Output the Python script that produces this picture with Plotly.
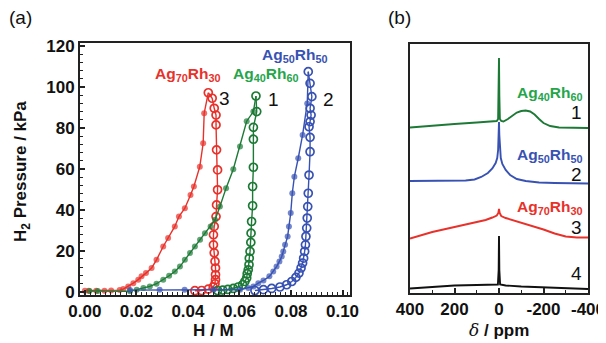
import plotly.graph_objects as go

# ---------------- Panel (a): H2 pressure-composition isotherms ----------------
# Ag70Rh30 (red, curve 3)
red_abs_x = [0.000, 0.0015, 0.0044, 0.0076, 0.0102, 0.0135, 0.0149, 0.0168, 0.0188, 0.0207, 0.0220,
             0.0237, 0.0259, 0.0278, 0.0304, 0.0323, 0.0349, 0.0365, 0.0388, 0.0410, 0.0423,
             0.0446, 0.0459, 0.0463, 0.0479]
red_abs_y = [0.5, 0.5, 0.5, 0.5, 0.6, 0.8, 1.3, 2.6, 4.2, 5.9, 7.5,
             9.1, 11.6, 15.6, 22.1, 26.2, 31.9, 36.7, 40.8, 47.3, 51.4,
             61.1, 72.5, 87.2, 97.2]
red_des_x = [0.0479, 0.0494, 0.0502, 0.0509, 0.0509, 0.0511, 0.0515, 0.0515, 0.0511, 0.0509,
             0.0502, 0.0499, 0.0499, 0.0502, 0.0505, 0.0507, 0.0507, 0.0507, 0.0505, 0.0498,
             0.0479, 0.0453, 0.0427]
red_des_y = [97.2, 94.5, 89.6, 86.3, 81.5, 69.3, 59.5, 49.8, 42.4, 36.7,
             31.9, 27.8, 22.9, 19.0, 14.8, 11.6, 8.3, 5.9, 3.9, 2.3,
             1.3, 0.6, 0.5]

# Ag40Rh60 (green, curve 1)
green_abs_x = [0.0018, 0.0050, 0.0175, 0.0201, 0.0227, 0.0252, 0.0278, 0.0304, 0.0327, 0.0349,
               0.0369, 0.0388, 0.0408, 0.0427, 0.0447, 0.0466, 0.0488, 0.0505, 0.0524, 0.0548,
               0.0576, 0.0602, 0.0628, 0.0654, 0.0664]
green_abs_y = [0.3, 0.3, 0.2, 1.0, 1.8, 2.6, 3.9, 5.9, 7.8, 9.9,
               12.3, 15.6, 18.9, 22.1, 25.4, 28.6, 31.9, 35.1, 41.6, 50.6,
               59.8, 70.9, 83.3, 88.0, 95.6]
green_des_x = [0.0664, 0.0667, 0.0654, 0.0654, 0.0654, 0.0651, 0.0651, 0.0647, 0.0645, 0.0644,
               0.0641, 0.0638, 0.0637, 0.0634, 0.0630, 0.0628, 0.0621, 0.0612, 0.0595, 0.0576,
               0.0555, 0.0535, 0.0515]
green_des_y = [95.6, 88.0, 80.3, 74.5, 60.8, 51.4, 42.0, 34.3, 28.6, 24.1,
               19.7, 16.4, 13.2, 10.7, 8.8, 6.7, 5.0, 3.4, 2.3, 1.6,
               1.1, 0.8, 0.6]

# Ag50Rh50 (blue, curve 2)
blue_abs_x = [0.0175, 0.0290, 0.0387, 0.0500, 0.0602, 0.0634, 0.0654, 0.0673, 0.0693, 0.0716,
              0.0731, 0.0744, 0.0755, 0.0764, 0.0770, 0.0777, 0.0787, 0.0792, 0.0799, 0.0805,
              0.0813, 0.0828, 0.0845, 0.0863, 0.0867]
blue_abs_y = [0.8, 1.0, 1.0, 1.0, 1.0, 1.8, 2.6, 4.2, 5.5, 7.5,
              9.9, 12.3, 14.8, 17.2, 19.7, 22.9, 27.0, 31.9, 38.4, 48.1,
              56.2, 65.2, 76.6, 92.0, 107.5]
blue_des_x = [0.0867, 0.0874, 0.0881, 0.0874, 0.0878, 0.0874, 0.0870, 0.0874, 0.0874, 0.0870,
              0.0867, 0.0865, 0.0863, 0.0861, 0.0858, 0.0856, 0.0853, 0.0849, 0.0845, 0.0839,
              0.0831, 0.0819, 0.0803, 0.0783, 0.0757, 0.0725, 0.0693, 0.0660]
blue_des_y = [107.5, 101.8, 95.3, 89.6, 86.3, 83.1, 80.6, 75.4, 68.4, 57.0,
              48.1, 41.6, 36.0, 31.1, 27.0, 22.9, 19.7, 16.4, 14.0, 11.6,
              9.1, 7.0, 5.0, 3.4, 2.3, 1.6, 1.0, 0.6]

# ---------------- Panel (b): NMR spectra (arbitrary offset intensity) ----------------
spec1_ppm = [400, 300, 200, 100, 40, 10, 4, 1.5, 0, -1.5, -4, -10, -20, -40, -60, -80, -100,
             -120, -140, -160, -180, -200, -230, -270, -400]
spec1_int = [165.5, 167.5, 169, 170.5, 171.5, 172, 174, 198, 235, 198, 174, 172, 171.5, 174,
             177.5, 180.5, 182, 182.5, 181.5, 178.5, 174, 170, 167, 165.5, 165]

spec2_ppm = [400, 200, 150, 110, 80, 50, 30, 15, 8, 4, 1.5, 0, -1.5, -4, -8, -15, -30, -50,
             -80, -120, -180, -250, -400]
spec2_int = [112, 112, 112.5, 113.5, 116, 120, 124.5, 130, 135, 143, 158, 171, 158, 143, 135,
             129, 123, 118, 114, 112, 110.5, 110, 109.5]

spec3_ppm = [400, 350, 300, 250, 200, 150, 100, 60, 30, 10, 3, 0, -3, -10, -30, -60, -100,
             -150, -200, -250, -300, -350, -400]
spec3_int = [54.5, 58, 61, 63.5, 66, 68.5, 71, 73, 75.5, 77.5, 80, 84, 80, 77, 75, 73, 70.5,
             67, 63.5, 59.5, 56.5, 55.5, 55.5]

spec4_ppm = [400, 300, 200, 100, 30, 5, 1.5, 0, -1.5, -5, -30, -100, -200, -300, -400]
spec4_int = [4.5, 6, 7.5, 8, 8, 8.5, 23, 57, 23, 8.5, 7.5, 6.5, 5.5, 4.5, 4]

# tick labels
a_xticks = [0.00, 0.02, 0.04, 0.06, 0.08, 0.10]
a_xticklabels = ["0.00", "0.02", "0.04", "0.06", "0.08", "0.10"]
a_yticks = [0, 20, 40, 60, 80, 100, 120]
b_xticks = [400, 200, 0, -200, -400]
b_xticklabels = ["400", "200", "0", "-200", "-400"]

RED = "#e8312a"
GREEN = "#1d7a36"
GREEN_LBL = "#25a54b"
BLUE = "#3852b3"
BLACK = "#111111"

# page layout: the html body has an 8px margin, so the figure is drawn 8px in
OFF = 8
W, H = 606 - OFF, 343 - OFF


def fx(px):
    return (px - OFF) / W


def fy(py):
    return 1 - (py - OFF) / H


fig = go.Figure()


def add_iso(xs, ys, color, filled):
    if filled:
        # the last (top) point belongs to the open desorption branch
        sizes = [6] * (len(xs) - 1) + [0]
        marker = dict(symbol="circle", size=sizes, color=color, line=dict(width=0))
    else:
        marker = dict(symbol="circle-open", size=8, color=color,
                      line=dict(color=color, width=1.7))
    fig.add_trace(go.Scatter(
        x=xs, y=ys, mode="lines+markers", xaxis="x", yaxis="y",
        line=dict(color=color, width=1.4), marker=marker,
        showlegend=False, hoverinfo="skip"))


add_iso(red_abs_x, red_abs_y, RED, True)
add_iso(red_des_x, red_des_y, RED, False)
add_iso(green_abs_x, green_abs_y, GREEN, True)
add_iso(green_des_x, green_des_y, GREEN, False)
add_iso(blue_abs_x, blue_abs_y, BLUE, True)
add_iso(blue_des_x, blue_des_y, BLUE, False)

for px, py, col in [(spec1_ppm, spec1_int, GREEN), (spec2_ppm, spec2_int, BLUE),
                    (spec3_ppm, spec3_int, RED), (spec4_ppm, spec4_int, BLACK)]:
    fig.add_trace(go.Scatter(x=px, y=py, mode="lines", xaxis="x2", yaxis="y2",
                             line=dict(color=col, width=1.9), showlegend=False,
                             hoverinfo="skip"))

FONT = "Liberation Sans, Arial, sans-serif"
axcol = "#222222"
TICKFONT = dict(size=17, weight="bold", family=FONT, color="#111111")

common = dict(showline=True, linewidth=2, linecolor=axcol, mirror=True,
              showgrid=False, zeroline=False, automargin=False)

fig.update_layout(
    template="none",
    width=W, height=H,
    margin=dict(l=0, r=0, t=0, b=0),
    paper_bgcolor="white", plot_bgcolor="white",
    font=dict(family=FONT, size=14, color="#111111"),
    xaxis=dict(domain=[fx(80), fx(350)], range=[-0.0019, 0.1029], anchor="y",
               tickvals=a_xticks, ticktext=a_xticklabels,
               ticks="inside", ticklen=5, tickwidth=1.5, tickcolor=axcol,
               minor=dict(dtick=0.002, ticks="inside", ticklen=3, tickwidth=1, tickcolor=axcol),
               tickfont=TICKFONT, **common),
    yaxis=dict(domain=[fy(295), fy(43)], range=[-1.6, 121.5], anchor="x",
               tickvals=a_yticks, ticktext=[str(t) for t in a_yticks],
               ticks="inside", ticklen=5, tickwidth=1.5, tickcolor=axcol,
               minor=dict(dtick=4, ticks="inside", ticklen=3, tickwidth=1, tickcolor=axcol),
               tickfont=TICKFONT, **common),
    xaxis2=dict(domain=[fx(410), fx(588)], range=[400, -400], anchor="y2",
                tickvals=b_xticks, ticktext=b_xticklabels,
                ticks="inside", ticklen=5, tickwidth=1.5, tickcolor=axcol,
                minor=dict(dtick=100, ticks="inside", ticklen=3, tickwidth=1, tickcolor=axcol),
                tickfont=TICKFONT, **common),
    yaxis2=dict(domain=[fy(293), fy(44)], range=[0, 249], anchor="x2",
                showticklabels=False, ticks="", **common),
)

ann = []


def A(x, y, text, size=14, color="#111111", xanchor="center", textangle=0, weight="normal"):
    ann.append(dict(x=fx(x), y=fy(y), xref="paper", yref="paper", text=text,
                    showarrow=False, xanchor=xanchor, yanchor="middle",
                    font=dict(size=size, color=color, family=FONT, weight=weight),
                    textangle=textangle))


A(20, 18, "(a)", size=19)
A(399, 18, "(b)", size=19)
A(213, 330, "H / M", size=17, weight="bold")
A(22, 172, "H<sub>2</sub> Pressure / kPa", size=17, textangle=-90, weight="bold")
A(499, 330, "<i><span style='font-family:DejaVu Serif;font-weight:normal'>δ</span></i> / ppm",
  size=17, weight="bold")

# panel (a) curve labels
A(187, 74, "Ag<sub>70</sub>Rh<sub>30</sub>", size=15.5, color=RED, weight="bold")
A(265, 74, "Ag<sub>40</sub>Rh<sub>60</sub>", size=15.5, color=GREEN_LBL, weight="bold")
A(294, 55, "Ag<sub>50</sub>Rh<sub>50</sub>", size=15.5, color=BLUE, weight="bold")
A(224, 98, "3", size=19)
A(273, 99, "1", size=19)
A(328, 99, "2", size=19)

# panel (b) curve labels
A(584, 93, "Ag<sub>40</sub>Rh<sub>60</sub>", size=15.5, color=GREEN_LBL, xanchor="right", weight="bold")
A(584, 155, "Ag<sub>50</sub>Rh<sub>50</sub>", size=15.5, color=BLUE, xanchor="right", weight="bold")
A(584, 208, "Ag<sub>70</sub>Rh<sub>30</sub>", size=15.5, color=RED, xanchor="right", weight="bold")
A(584, 112, "1", size=19, xanchor="right")
A(584, 174, "2", size=19, xanchor="right")
A(584, 227, "3", size=19, xanchor="right")
A(584, 273, "4", size=19, xanchor="right")

fig.update_layout(annotations=ann)
fig.write_html("out.html")
